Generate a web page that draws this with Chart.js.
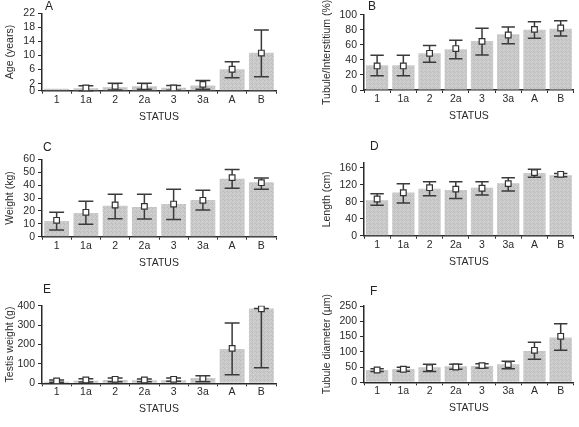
<!DOCTYPE html>
<html>
<head>
<meta charset="utf-8">
<script src="https://cdn.jsdelivr.net/npm/chart.js@4/dist/chart.umd.min.js"></script>
<style>
  body { margin: 0; background: #fff; }
  #page { position: relative; width: 579px; height: 427px; overflow: hidden; background: #fff; }
  #page canvas { position: absolute; }
  .tag { position: absolute; font: 12px "Liberation Sans", Arial, sans-serif; color: #222; line-height: 12px; }
</style>
</head>
<body>
<div id="page"></div>
<script>
const categories = ["1", "1a", "2", "2a", "3", "3a", "A", "B"];

// A: age
const ageBar = [0.55, 0.7, 0.95, 1.3, 0.85, 1.5, 6.1, 10.8];
const ageMean = [null, 0.76, 1.23, 1.2, 0.76, 1.8, 6.1, 10.7];
const ageLow = [null, 0.0, 0.2, 0.4, 0.1, 0.4, 3.7, 4.0];
const ageHigh = [null, 1.4, 2.1, 2.1, 1.5, 2.9, 8.25, 17.25];
const ageTicks = [0, 2, 6, 10, 14, 18, 22];

// B: tubule/interstitium
const tubBar = [33, 33, 48.7, 54, 65, 74, 80, 81.4];
const tubMean = [32, 32, 48.7, 55, 64.6, 73, 80.5, 82.3];
const tubLow = [19, 19, 37, 41.6, 46.5, 61.5, 68.6, 71.7];
const tubHigh = [46, 46, 59, 66, 82, 83.6, 90.7, 92];
const tubTicks = [0, 20, 40, 60, 80, 100];

// C: weight
const wtBar = [12.2, 18.4, 24, 23, 25.3, 28.4, 45, 42.2];
const wtMean = [12.7, 18.9, 24.6, 23.5, 25.3, 28.2, 45.8, 41.9];
const wtLow = [5.2, 9.6, 14, 13.7, 13.4, 20.7, 37.5, 36.7];
const wtHigh = [18.9, 27.4, 33, 33, 36.7, 36, 52, 45.5];
const wtTicks = [0, 10, 20, 30, 40, 50, 60];

// D: length
const lenBar = [84, 102, 111, 108, 113.5, 123.7, 148, 142.6];
const lenMean = [86.7, 101.6, 113.5, 110, 112, 123, 149, 145];
const lenLow = [72, 77, 94.6, 88, 96, 105.6, 138, 139.5];
const lenHigh = [99, 123, 127.7, 127.7, 127.7, 137, 157, 147];
const lenTicks = [0, 40, 80, 120, 160];

// E: testis weight
const tesBar = [8.6, 13.7, 17, 15.5, 15.5, 27.5, 177, 386];
const tesMean = [12, 17, 20.6, 17, 20.6, 24, 180, 384.5];
const tesLow = [5, 7, 8.6, 8.6, 10, 8.6, 44.6, 80.7];
const tesHigh = [17, 24, 27.5, 22, 27.5, 39.5, 311, 385];
const tesTicks = [0, 100, 200, 300, 400];

// F: tubule diameter
const diaBar = [40.4, 43.7, 49, 52.4, 53.5, 59, 102.6, 147];
const diaMean = [40.4, 42.6, 48, 50.2, 54.6, 57.9, 104.8, 150.7];
const diaLow = [35, 36, 35, 42.6, 47, 44.8, 75.3, 104.8];
const diaHigh = [44.8, 49, 59, 59, 61, 68.8, 131, 192];
const diaTicks = [0, 50, 100, 150, 200, 250];

const FONT = "'Liberation Sans', Arial, sans-serif";
const INK = "#2a2a2a";

// stippled grey fill like the printed bars
function barPattern() {
  const c = document.createElement("canvas");
  c.width = 4; c.height = 4;
  const g = c.getContext("2d");
  g.fillStyle = "#c8c8c8";
  g.fillRect(0, 0, 4, 4);
  const dots = [[0, 0, "#bcbcbc"], [2, 1, "#d3d3d3"], [1, 2, "#d3d3d3"], [3, 3, "#bdbdbd"], [3, 0, "#d0d0d0"]];
  dots.forEach(([x, y, col]) => { g.fillStyle = col; g.fillRect(x, y, 1, 1); });
  return g.createPattern(c, "repeat");
}

const errorBars = {
  id: "errorBars",
  afterDatasetDraw(chart, args, opts) {
    if (args.index !== 0) return;
    const { ctx } = chart;
    const x = chart.scales.x, y = chart.scales.y;
    ctx.save();
    ctx.strokeStyle = "#3a3a3a";
    ctx.lineWidth = 1.5;
    opts.low.forEach((lo, i) => {
      const hi = opts.high[i];
      if (lo == null || hi == null) return;
      const px = x.getPixelForValue(i);
      const cap = args.meta.data[i].width * 0.3;
      const yl = y.getPixelForValue(lo), yh = y.getPixelForValue(hi);
      ctx.beginPath();
      ctx.moveTo(px, yl); ctx.lineTo(px, yh);
      ctx.moveTo(px - cap, yl); ctx.lineTo(px + cap, yl);
      ctx.moveTo(px - cap, yh); ctx.lineTo(px + cap, yh);
      ctx.stroke();
    });
    ctx.restore();
  },
};

function makePanel(p) {
  const page = document.getElementById("page");
  const cv = document.createElement("canvas");
  cv.width = p.w; cv.height = p.h;
  cv.style.left = p.x + "px"; cv.style.top = p.y + "px";
  cv.style.width = p.w + "px"; cv.style.height = p.h + "px";
  page.appendChild(cv);

  const tag = document.createElement("div");
  tag.className = "tag";
  tag.textContent = p.letter;
  tag.style.left = p.tagX + "px";
  tag.style.top = p.tagY + "px";
  page.appendChild(tag);

  const lh = 12.6;
  new Chart(cv, {
    data: {
      labels: categories,
      datasets: [
        {
          type: "bar",
          data: p.bar,
          backgroundColor: barPattern(),
          borderWidth: 0,
          barPercentage: 0.85,
          categoryPercentage: 1,
          order: 2,
        },
        {
          type: "line",
          data: p.mean,
          showLine: false,
          pointStyle: "rect",
          pointRadius: 4,
          pointBackgroundColor: "#fff",
          pointBorderColor: "#333",
          pointBorderWidth: 1.2,
          order: 1,
        },
      ],
    },
    options: {
      responsive: false,
      animation: false,
      events: [],
      layout: { padding: { top: p.top, right: p.right, left: 0, bottom: 0 } },
      plugins: {
        legend: { display: false },
        tooltip: { enabled: false },
        errorBars: { low: p.low, high: p.high },
      },
      scales: {
        x: {
          offset: true,
          grid: { display: true, offset: true, drawOnChartArea: false, tickLength: 3, color: INK, lineWidth: 1 },
          border: { display: true, color: INK, width: 1.5 },
          ticks: { padding: 0, color: INK, font: { family: FONT, size: 10.5 }, maxRotation: 0, autoSkip: false },
          title: {
            display: true,
            text: "STATUS",
            color: INK,
            font: { family: FONT, size: 10.5 },
            padding: { top: 0, bottom: p.xh - 26.3 - lh / 2 },
          },
          afterFit(s) { s.height = p.xh; },
        },
        y: {
          min: 0,
          max: p.max,
          grid: { display: true, drawOnChartArea: false, tickLength: 4, color: INK, lineWidth: 1 },
          border: { display: true, color: INK, width: 1.5 },
          ticks: { padding: 3, color: INK, font: { family: FONT, size: 10.5 }, autoSkip: false },
          afterBuildTicks(s) { s.ticks = p.ticks.map((v) => ({ value: v })); },
          title: {
            display: true,
            text: p.ytitle,
            color: INK,
            font: { family: FONT, size: 10.5 },
            padding: { top: p.titlePad, bottom: 0 },
          },
          afterFit(s) { s.width = p.yw; },
        },
      },
    },
    plugins: [errorBars],
  });
}

const L = { x: 0, w: 290, yw: 42, right: 14, titlePad: 3.7 };
const R = { x: 290, w: 289, yw: 74, right: 3, titlePad: 30.4 };

makePanel(Object.assign({}, L, { y: 0, h: 140, top: 13.3, xh: 49.3, max: 22, ticks: ageTicks,
  bar: ageBar, mean: ageMean, low: ageLow, high: ageHigh, ytitle: "Age (years)", letter: "A", tagX: 45, tagY: 0 }));
makePanel(Object.assign({}, R, { y: 0, h: 140, top: 14.7, xh: 50, max: 100, ticks: tubTicks,
  bar: tubBar, mean: tubMean, low: tubLow, high: tubHigh, ytitle: "Tubule/Interstitium (%)", letter: "B", tagX: 368, tagY: 0 }));
makePanel(Object.assign({}, L, { y: 140, h: 140, top: 19.3, xh: 43.3, max: 60, ticks: wtTicks,
  bar: wtBar, mean: wtMean, low: wtLow, high: wtHigh, ytitle: "Weight (kg)", letter: "C", tagX: 43, tagY: 141 }));
makePanel(Object.assign({}, R, { y: 140, h: 140, top: 22.9, xh: 44.3, max: 172, ticks: lenTicks,
  bar: lenBar, mean: lenMean, low: lenLow, high: lenHigh, ytitle: "Length (cm)", letter: "D", tagX: 370, tagY: 140 }));
makePanel(Object.assign({}, L, { y: 280, h: 147, top: 25.7, xh: 43.7, max: 400, ticks: tesTicks,
  bar: tesBar, mean: tesMean, low: tesLow, high: tesHigh, ytitle: "Testis weight (g)", letter: "E", tagX: 43, tagY: 283 }));
makePanel(Object.assign({}, R, { y: 280, h: 147, top: 26, xh: 44.7, max: 250, ticks: diaTicks,
  bar: diaBar, mean: diaMean, low: diaLow, high: diaHigh, ytitle: "Tubule diameter (µm)", letter: "F", tagX: 370, tagY: 285 }));
</script>
</body>
</html>
